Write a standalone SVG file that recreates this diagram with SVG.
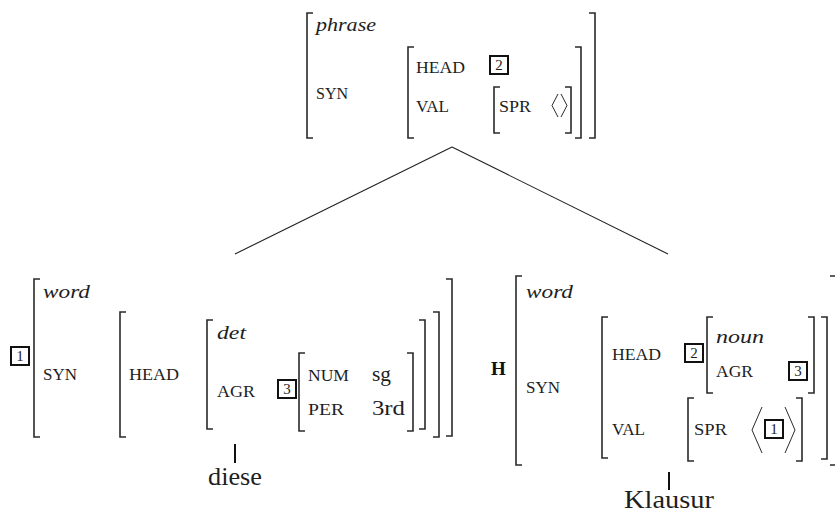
<svg xmlns="http://www.w3.org/2000/svg" width="835" height="512" viewBox="0 0 835 512">
<style>
text{font-family:"Liberation Serif","Times New Roman",serif;fill:#1e1e1e}
.br{fill:none;stroke:#2a2a2a;stroke-width:1.6}
.ang{fill:none;stroke:#2a2a2a;stroke-width:1}
.box{fill:none;stroke:#111;stroke-width:2}
.num{font-size:15px;text-anchor:middle}
.sc{font-size:16px}
.it{font-style:italic;font-size:19px}
.rm{font-size:20px}
.leaf{font-size:25px}
.bold{font-weight:bold;font-size:19px;fill:#111}
.edge{stroke:#222;stroke-width:1.1;fill:none}
.tick{stroke:#111;stroke-width:2;fill:none}
</style>

<g id="phrase">
<path class="br" d="M313 13H307V138H313"/>
<path class="br" d="M589 13H595V138H589"/>
<path class="br" d="M414 47H408V138H414"/>
<path class="br" d="M575 47H581V138H575"/>
<path class="br" d="M500 87H494V133H500"/>
<path class="br" d="M565 87H571V133H565"/>
<text class="it" x="316" y="31" textLength="60" lengthAdjust="spacingAndGlyphs">phrase</text>
<text class="sc" x="316" y="99" textLength="32" lengthAdjust="spacingAndGlyphs">SYN</text>
<text class="sc" x="416" y="73" textLength="49" lengthAdjust="spacingAndGlyphs">HEAD</text>
<text class="sc" x="416" y="112" textLength="33" lengthAdjust="spacingAndGlyphs">VAL</text>
<text class="sc" x="499" y="112" textLength="32" lengthAdjust="spacingAndGlyphs">SPR</text>
<rect class="box" x="490" y="56" width="18" height="18"/>
<text class="num" x="499" y="70">2</text>
<path class="ang" d="M558 94L552 105.5L558 117"/>
<path class="ang" d="M561 94L567 105.5L561 117"/>
</g>

<g id="diese-word">
<rect class="box" x="11" y="347" width="18" height="18"/>
<text class="num" x="20" y="361">1</text>
<path class="br" d="M40 279H34V437H40"/>
<path class="br" d="M446 279H452V436H446"/>
<path class="br" d="M126 312H120V437H126"/>
<path class="br" d="M433 312H439V437H433"/>
<path class="br" d="M213 320H207V429H213"/>
<path class="br" d="M419 320H425V429H419"/>
<path class="br" d="M305 353H299V431H305"/>
<path class="br" d="M407 353H413V431H407"/>
<text class="it" x="43" y="298" textLength="47" lengthAdjust="spacingAndGlyphs">word</text>
<text class="sc" x="43" y="380" textLength="34" lengthAdjust="spacingAndGlyphs">SYN</text>
<text class="sc" x="129" y="380" textLength="50" lengthAdjust="spacingAndGlyphs">HEAD</text>
<text class="it" x="217" y="339" textLength="29" lengthAdjust="spacingAndGlyphs">det</text>
<text class="sc" x="217" y="397" textLength="38" lengthAdjust="spacingAndGlyphs">AGR</text>
<rect class="box" x="278" y="380" width="18" height="18"/>
<text class="num" x="287" y="394">3</text>
<text class="sc" x="308" y="381" textLength="41" lengthAdjust="spacingAndGlyphs">NUM</text>
<text class="rm" x="372" y="381" textLength="19" lengthAdjust="spacingAndGlyphs">sg</text>
<text class="sc" x="308" y="415" textLength="36" lengthAdjust="spacingAndGlyphs">PER</text>
<text class="rm" x="372" y="415" textLength="33" lengthAdjust="spacingAndGlyphs">3rd</text>
</g>

<g id="klausur-word">
<text class="bold" x="491" y="375">H</text>
<path class="br" d="M522 276H516V465H522"/>
<path class="br" d="M830 276H836V465H830"/>
<path class="br" d="M608 317H602V458H608"/>
<path class="br" d="M821 317H827V459H821"/>
<rect class="box" x="685" y="344" width="18" height="18"/>
<text class="num" x="694" y="358">2</text>
<path class="br" d="M713 317H707V393H713"/>
<path class="br" d="M808 317H814V393H808"/>
<rect class="box" x="789" y="362" width="18" height="18"/>
<text class="num" x="798" y="376">3</text>
<path class="br" d="M694 398H688V461H694"/>
<path class="br" d="M796 398H802V461H796"/>
<path class="ang" d="M762 407L752 430L762 453"/>
<rect class="box" x="765" y="420" width="18" height="18"/>
<text class="num" x="774" y="434">1</text>
<path class="ang" d="M785 407L795 430L785 453"/>
<text class="it" x="526" y="298" textLength="47" lengthAdjust="spacingAndGlyphs">word</text>
<text class="sc" x="526" y="393" textLength="34" lengthAdjust="spacingAndGlyphs">SYN</text>
<text class="sc" x="612" y="360" textLength="49" lengthAdjust="spacingAndGlyphs">HEAD</text>
<text class="sc" x="612" y="435" textLength="33" lengthAdjust="spacingAndGlyphs">VAL</text>
<text class="it" x="716" y="343" textLength="48" lengthAdjust="spacingAndGlyphs">noun</text>
<text class="sc" x="716" y="377" textLength="37" lengthAdjust="spacingAndGlyphs">AGR</text>
<text class="sc" x="694" y="435" textLength="33" lengthAdjust="spacingAndGlyphs">SPR</text>
</g>

<g id="leaf-diese">
<text class="leaf" x="208" y="485" textLength="54" lengthAdjust="spacingAndGlyphs">diese</text>
</g>
<g id="leaf-klausur">
<text class="leaf" x="624" y="508" textLength="90" lengthAdjust="spacingAndGlyphs">Klausur</text>
</g>

<g id="connectors">
<line class="edge" x1="452" y1="147" x2="235" y2="254"/>
<line class="edge" x1="452" y1="147" x2="668" y2="254"/>
<line class="tick" x1="235" y1="444" x2="235" y2="463"/>
<line class="tick" x1="669" y1="472" x2="669" y2="490"/>
</g>
</svg>
